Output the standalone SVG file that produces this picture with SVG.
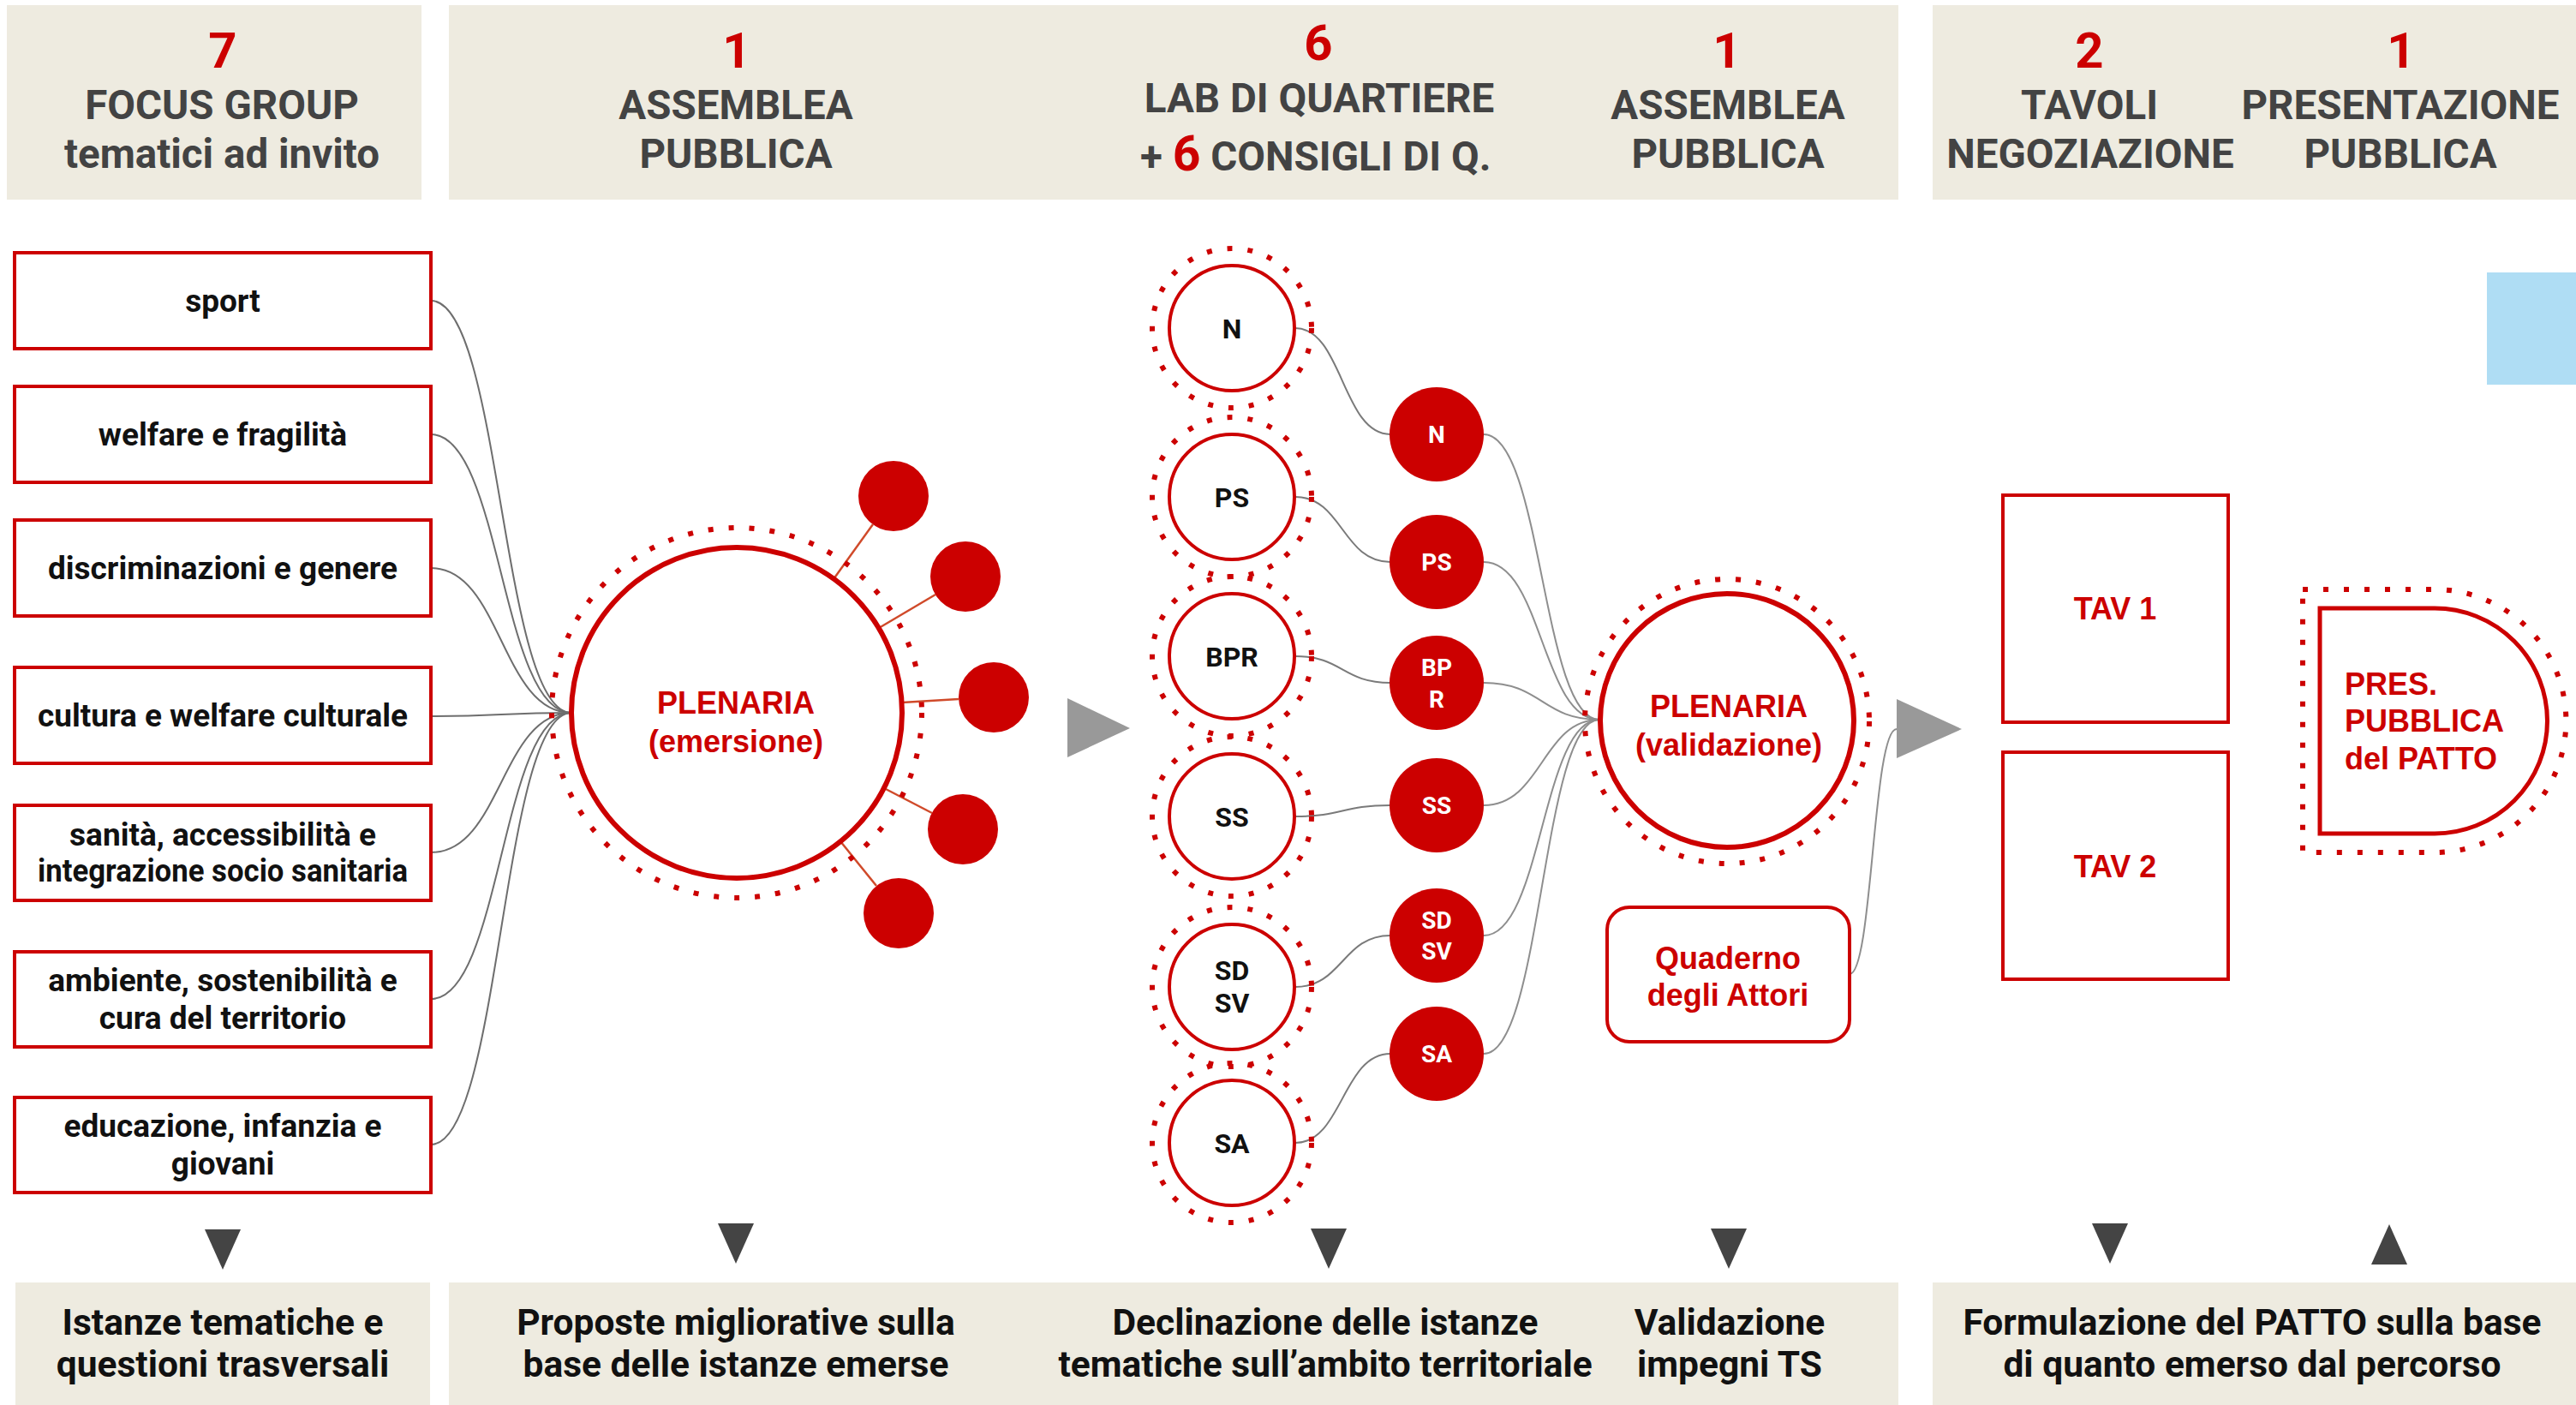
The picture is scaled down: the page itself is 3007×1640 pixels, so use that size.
<svg xmlns="http://www.w3.org/2000/svg" width="3007" height="1640" viewBox="0 0 3007 1640">
<style>
.hdr{fill:#EEEBE0}
.ht{font-family:Roboto,"Noto Sans",sans-serif;font-weight:700;font-size:47.5px;fill:#434343;text-anchor:middle}
.num{font-size:58px;fill:#CC0000}
.bt{font-family:Roboto,"Noto Sans",sans-serif;font-weight:700;font-size:42.5px;fill:#111;text-anchor:middle}
.box{fill:#fff;stroke:#CC0000;stroke-width:4}
.bxt{font-family:Roboto,"Noto Sans",sans-serif;font-weight:700;font-size:37px;fill:#111;text-anchor:middle}
.ring{fill:none;stroke:#CC0000;stroke-width:6;stroke-dasharray:6 18}
.circ{fill:#fff;stroke:#CC0000;stroke-width:4}
.big{fill:#fff;stroke:#CC0000;stroke-width:6}
.dot{fill:#CC0000}
.lbl{font-family:Roboto,"Noto Sans",sans-serif;font-weight:700;font-size:32px;fill:#111;text-anchor:middle}
.wl{font-family:Roboto,"Noto Sans",sans-serif;font-weight:700;font-size:28px;fill:#fff;text-anchor:middle}
.rt{font-family:"Liberation Sans",Arial,sans-serif;font-weight:700;font-size:36px;fill:#CC0000;text-anchor:middle}
.c1{fill:none;stroke:#6e6e6e;stroke-width:2}
.c2{fill:none;stroke:#7a7a7a;stroke-width:2}
.c3{fill:none;stroke:#8e8e8e;stroke-width:2}
.sat{stroke:#D04A2A;stroke-width:2.5}
.tri{fill:#444}
.gtri{fill:#999}
</style>
<rect width="3007" height="1640" fill="#fff"/>

<!-- header -->
<g id="header">
<rect class="hdr" x="8" y="6" width="484" height="227"/>
<rect class="hdr" x="524" y="6" width="1692" height="227"/>
<rect class="hdr" x="2256" y="6" width="751" height="227"/>
<text class="ht num" x="260" y="79">7</text>
<text class="ht" x="259" y="139">FOCUS GROUP</text>
<text class="ht" x="259" y="196">tematici ad invito</text>
<text class="ht num" x="860" y="79">1</text>
<text class="ht" x="859" y="139">ASSEMBLEA</text>
<text class="ht" x="859" y="196">PUBBLICA</text>
<text class="ht num" x="1539" y="70">6</text>
<text class="ht" x="1540" y="131">LAB DI QUARTIERE</text>
<text class="ht" x="1331" y="199" style="text-anchor:start">+ <tspan fill="#CC0000" font-size="57">6</tspan> CONSIGLI DI Q.</text>
<text class="ht num" x="2016" y="79">1</text>
<text class="ht" x="2017" y="139">ASSEMBLEA</text>
<text class="ht" x="2017" y="196">PUBBLICA</text>
<text class="ht num" x="2439" y="79">2</text>
<text class="ht" x="2439" y="139">TAVOLI</text>
<text class="ht" x="2440" y="196">NEGOZIAZIONE</text>
<text class="ht num" x="2803" y="79">1</text>
<text class="ht" x="2802" y="139">PRESENTAZIONE</text>
<text class="ht" x="2802" y="196">PUBBLICA</text>
</g>

<rect id="blue" x="2903" y="318" width="104" height="131" fill="#AFDDF4"/>

<!-- connectors -->
<g id="connectors">
<path class="c1" d="M503,351 C585,351 585,832 667,832"/>
<path class="c1" d="M503,507 C585,507 585,832 667,832"/>
<path class="c1" d="M503,663 C585,663 585,832 667,832"/>
<path class="c1" d="M503,836 C585,836 585,832 667,832"/>
<path class="c1" d="M503,995 C585,995 585,832 667,832"/>
<path class="c1" d="M503,1166 C585,1166 585,832 667,832"/>
<path class="c1" d="M503,1336 C585,1336 585,832 667,832"/>
<line class="sat" x1="973" y1="676" x2="1019" y2="612"/>
<line class="sat" x1="1026" y1="733" x2="1092" y2="694"/>
<line class="sat" x1="1053" y1="820" x2="1119" y2="816"/>
<line class="sat" x1="1032" y1="920" x2="1088" y2="949"/>
<line class="sat" x1="981" y1="982" x2="1023" y2="1034"/>
<path class="c2" d="M1512,383 C1567,383 1567,507 1623,507"/>
<path class="c2" d="M1512,580 C1567,580 1567,656 1623,656"/>
<path class="c2" d="M1512,766 C1567,766 1567,797 1623,797"/>
<path class="c2" d="M1512,953 C1567,953 1567,940 1623,940"/>
<path class="c2" d="M1512,1152 C1567,1152 1567,1092 1623,1092"/>
<path class="c2" d="M1512,1334 C1567,1334 1567,1230 1623,1230"/>
<path class="c3" d="M1732,507 C1800,507 1800,840 1867,840"/>
<path class="c3" d="M1732,656 C1800,656 1800,840 1867,840"/>
<path class="c3" d="M1732,797 C1800,797 1800,840 1867,840"/>
<path class="c3" d="M1732,940 C1800,940 1800,840 1867,840"/>
<path class="c3" d="M1732,1092 C1800,1092 1800,840 1867,840"/>
<path class="c3" d="M1732,1230 C1800,1230 1800,840 1867,840"/>
<path class="c3" d="M2159,1137 C2186,1137 2186,851 2214,851"/>
<polygon class="gtri" points="1246,815 1319,850 1246,884"/>
<polygon class="gtri" points="2214,816 2290,851 2214,885"/>
</g>

<!-- focus group boxes -->
<g id="fg-sport"><rect class="box" x="17" y="295" width="486" height="112"/><text class="bxt" x="260" y="364">sport</text></g>
<g id="fg-welfare"><rect class="box" x="17" y="451" width="486" height="112"/><text class="bxt" x="260" y="520">welfare e fragilità</text></g>
<g id="fg-discriminazioni"><rect class="box" x="17" y="607" width="486" height="112"/><text class="bxt" x="260" y="676">discriminazioni e genere</text></g>
<g id="fg-cultura"><rect class="box" x="17" y="779" width="486" height="112"/><text class="bxt" x="260" y="848">cultura e welfare culturale</text></g>
<g id="fg-sanita"><rect class="box" x="17" y="940" width="486" height="111"/><text class="bxt" x="260" y="987">sanità, accessibilità e</text><text class="bxt" x="260" y="1029" textLength="432" lengthAdjust="spacingAndGlyphs">integrazione socio sanitaria</text></g>
<g id="fg-ambiente"><rect class="box" x="17" y="1111" width="486" height="111"/><text class="bxt" x="260" y="1157">ambiente, sostenibilità e</text><text class="bxt" x="260" y="1201">cura del territorio</text></g>
<g id="fg-educazione"><rect class="box" x="17" y="1281" width="486" height="111"/><text class="bxt" x="260" y="1327">educazione, infanzia e</text><text class="bxt" x="260" y="1371">giovani</text></g>

<!-- plenaria emersione -->
<g id="plenaria-emersione">
<circle class="ring" cx="860" cy="832" r="216"/>
<circle class="big" cx="860" cy="832" r="193"/>
<text class="rt" x="859" y="833">PLENARIA</text>
<text class="rt" x="859" y="878">(emersione)</text>
</g>
<g id="sat-1"><circle class="dot" cx="1043" cy="579" r="41"/></g>
<g id="sat-2"><circle class="dot" cx="1127" cy="673" r="41"/></g>
<g id="sat-3"><circle class="dot" cx="1160" cy="814" r="41"/></g>
<g id="sat-4"><circle class="dot" cx="1124" cy="968" r="41"/></g>
<g id="sat-5"><circle class="dot" cx="1049" cy="1066" r="41"/></g>

<!-- lab di quartiere -->
<g id="lab-N"><circle class="ring" cx="1438" cy="383" r="93"/><circle class="circ" cx="1438" cy="383" r="73"/><text class="lbl" x="1438" y="395">N</text></g>
<g id="lab-PS"><circle class="ring" cx="1438" cy="580" r="93"/><circle class="circ" cx="1438" cy="580" r="73"/><text class="lbl" x="1438" y="592">PS</text></g>
<g id="lab-BPR"><circle class="ring" cx="1438" cy="766" r="93"/><circle class="circ" cx="1438" cy="766" r="73"/><text class="lbl" x="1438" y="778">BPR</text></g>
<g id="lab-SS"><circle class="ring" cx="1438" cy="953" r="93"/><circle class="circ" cx="1438" cy="953" r="73"/><text class="lbl" x="1438" y="965">SS</text></g>
<g id="lab-SDSV"><circle class="ring" cx="1438" cy="1152" r="93"/><circle class="circ" cx="1438" cy="1152" r="73"/><text class="lbl" x="1438" y="1144">SD</text><text class="lbl" x="1438" y="1182">SV</text></g>
<g id="lab-SA"><circle class="ring" cx="1438" cy="1334" r="93"/><circle class="circ" cx="1438" cy="1334" r="73"/><text class="lbl" x="1438" y="1346">SA</text></g>

<!-- consigli -->
<g id="cq-N"><circle class="dot" cx="1677" cy="507" r="55"/><text class="wl" x="1677" y="517">N</text></g>
<g id="cq-PS"><circle class="dot" cx="1677" cy="656" r="55"/><text class="wl" x="1677" y="666">PS</text></g>
<g id="cq-BPR"><circle class="dot" cx="1677" cy="797" r="55"/><text class="wl" x="1677" y="789">BP</text><text class="wl" x="1677" y="826">R</text></g>
<g id="cq-SS"><circle class="dot" cx="1677" cy="940" r="55"/><text class="wl" x="1677" y="950">SS</text></g>
<g id="cq-SDSV"><circle class="dot" cx="1677" cy="1092" r="55"/><text class="wl" x="1677" y="1084">SD</text><text class="wl" x="1677" y="1120">SV</text></g>
<g id="cq-SA"><circle class="dot" cx="1677" cy="1230" r="55"/><text class="wl" x="1677" y="1240">SA</text></g>

<!-- plenaria validazione -->
<g id="plenaria-validazione">
<circle class="ring" cx="2016" cy="842" r="166"/>
<circle class="big" cx="2016" cy="841" r="148"/>
<text class="rt" x="2018" y="837">PLENARIA</text>
<text class="rt" x="2018" y="882">(validazione)</text>
</g>
<g id="quaderno">
<rect x="1876" y="1059" width="283" height="157" rx="26" fill="#fff" stroke="#CC0000" stroke-width="4"/>
<text class="rt" x="2017" y="1131">Quaderno</text>
<text class="rt" x="2017" y="1174">degli Attori</text>
</g>

<!-- tavoli -->
<g id="tav-1"><rect class="box" x="2338" y="578" width="263" height="265" stroke-width="5"/><text class="rt" x="2469" y="723" font-size="35">TAV 1</text></g>
<g id="tav-2"><rect class="box" x="2338" y="878" width="263" height="265" stroke-width="5"/><text class="rt" x="2469" y="1024" font-size="35">TAV 2</text></g>

<!-- presentazione -->
<g id="presentazione">
<path d="M2688,688 H2842 A153.5 153.5 0 0 1 2842,995 H2688 Z" fill="none" stroke="#CC0000" stroke-width="6" stroke-dasharray="6 18"/>
<path d="M2708,710 H2842 A131.5 131.5 0 0 1 2842,973 H2708 Z" fill="#fff" stroke="#CC0000" stroke-width="5"/>
<text class="rt" x="2737" y="811" font-size="37" style="text-anchor:start">PRES.</text>
<text class="rt" x="2737" y="854" font-size="37" style="text-anchor:start">PUBBLICA</text>
<text class="rt" x="2737" y="898" font-size="37" style="text-anchor:start">del PATTO</text>
</g>

<!-- small triangles -->
<g id="markers">
<polygon class="tri" points="239,1435 281,1435 260,1482"/>
<polygon class="tri" points="838,1428 880,1428 859,1475"/>
<polygon class="tri" points="1530,1434 1572,1434 1551,1481"/>
<polygon class="tri" points="1997,1434 2039,1434 2018,1481"/>
<polygon class="tri" points="2442,1428 2484,1428 2463,1475"/>
<polygon class="tri" points="2768,1476 2810,1476 2789,1429"/>
</g>

<!-- footer -->
<g id="footer">
<rect class="hdr" x="18" y="1497" width="484" height="143"/>
<rect class="hdr" x="524" y="1497" width="1692" height="143"/>
<rect class="hdr" x="2256" y="1497" width="751" height="143"/>
<text class="bt" x="260" y="1558">Istanze tematiche e</text>
<text class="bt" x="260" y="1607">questioni trasversali</text>
<text class="bt" x="859" y="1558">Proposte migliorative sulla</text>
<text class="bt" x="859" y="1607">base delle istanze emerse</text>
<text class="bt" x="1547" y="1558">Declinazione delle istanze</text>
<text class="bt" x="1547" y="1607">tematiche sull’ambito territoriale</text>
<text class="bt" x="2019" y="1558">Validazione</text>
<text class="bt" x="2019" y="1607">impegni TS</text>
<text class="bt" x="2629" y="1558">Formulazione del PATTO sulla base</text>
<text class="bt" x="2629" y="1607">di quanto emerso dal percorso</text>
</g>
</svg>
